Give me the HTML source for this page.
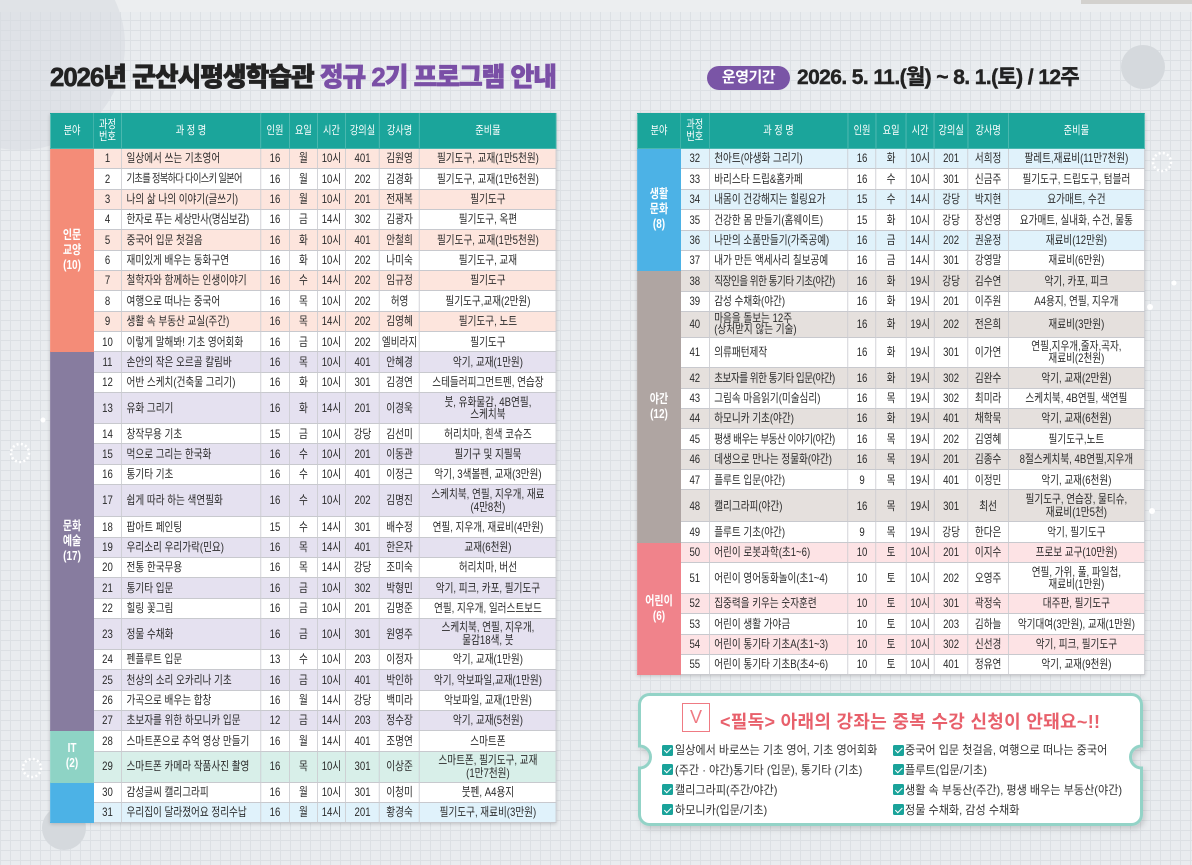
<!DOCTYPE html>
<html lang="ko">
<head>
<meta charset="utf-8">
<style>
html,body{margin:0;padding:0;overflow:hidden;}
body{width:1192px;height:865px;}
#pg{position:relative;width:1192px;height:865px;overflow:hidden;
 background-color:#e9ecef;
 background-image:linear-gradient(#dce0e4 1px,transparent 1px),linear-gradient(90deg,#dce0e4 1px,transparent 1px);
 background-size:10px 10px;
 font-family:"Liberation Sans","Noto Sans CJK KR",sans-serif;}
.topband{position:absolute;left:0;top:0;width:1192px;height:12px;background:#eceef0;}
.topdark{position:absolute;left:1081px;top:0;width:111px;height:4px;background:#d3d1ce;}
.title{position:absolute;left:50px;top:61px;font-size:26px;font-weight:900;letter-spacing:-1px;transform:scaleX(.99);transform-origin:0 0;white-space:nowrap;color:#222;line-height:32px;-webkit-text-stroke:0.7px currentColor;}
.title span{color:#7a4fa6;}
.pill{position:absolute;left:707px;top:66px;width:83px;height:24px;border-radius:12px;background:#7a55a6;color:#fff;font-weight:bold;font-size:15px;line-height:24px;text-align:center;letter-spacing:-0.5px;}
.period{position:absolute;left:797px;top:65px;font-size:21px;font-weight:bold;letter-spacing:-0.6px;line-height:26px;color:#222;white-space:nowrap;-webkit-text-stroke:0.4px currentColor;}
.t{position:absolute;top:113px;border-collapse:collapse;table-layout:fixed;transform:scaleX(.8);transform-origin:0 0;font-size:12px;color:#2a2a2a;background:#fff;box-shadow:0 1px 4px rgba(0,0,0,.18);}
.t td{border:1px solid #c8c9ce;padding:0;text-align:center;line-height:12.5px;white-space:nowrap;}
.t td.n{text-align:left;padding-left:6px;}
.t th{background:#1ba59b;color:#fff;font-weight:normal;border:1px solid #4ab7af;border-top-color:#1ba59b;height:34px;padding:0;line-height:12.5px;font-size:11.5px;}
.t td.c{color:#fff;font-weight:bold;font-size:12.5px;line-height:15px;}
.L{left:50px;width:632.5px;}
.R{left:637px;width:633.9px;}
.L tr{height:20.35px;}
.R tr{height:20.4px;}
.t tr.hd{height:34px;}
.c1{background:#f48c78;border-color:#f48c78 !important;}
.c2{background:#877c9f;border-color:#877c9f !important;}
.c3{background:#8ed3c5;border-color:#8ed3c5 !important;}
.c4{background:#4cb2e6;border-color:#4cb2e6 !important;}
.c5{background:#afa5a2;border-color:#afa5a2 !important;}
.c6{background:#f0838b;border-color:#f0838b !important;}
tr.p1{background:#fde5dd;}
tr.p2{background:#e5e1f0;}
tr.p3{background:#d8efe9;}
tr.p4{background:#e0f2fb;}
tr.p5{background:#e5e0dd;}
tr.p6{background:#fde3e5;}
tr.w{background:#fff;}
.vbox{position:absolute;left:682px;top:703px;width:26px;height:27px;border:1.5px solid #ef7a83;background:#fff;color:#ef7a83;font-size:18px;line-height:27px;text-align:center;font-family:"Liberation Sans",sans-serif;}
.ntitle{position:absolute;left:720px;top:709px;font-size:18px;font-weight:bold;color:#e8606b;line-height:26px;white-space:nowrap;letter-spacing:0.3px;}
.ck{position:absolute;width:11px;height:11px;background:#1aa39a;border-radius:1.5px;}
.ck:after{content:"";position:absolute;left:3.5px;top:1.5px;width:3px;height:5.5px;border:solid #fff;border-width:0 1.5px 1.5px 0;transform:rotate(45deg);}
.ci{position:absolute;font-size:12px;color:#333;line-height:16px;white-space:nowrap;transform:scaleX(.925);transform-origin:0 0;}
</style>
</head>
<body>
<div id="pg">
<div class="topband"></div>
<div class="topdark"></div>
<svg width="1192" height="865" style="position:absolute;left:0;top:0">
<defs><filter id="sh" x="-5%" y="-10%" width="110%" height="125%"><feDropShadow dx="2" dy="3" stdDeviation="3" flood-color="#000" flood-opacity=".15"/></filter></defs>
<circle cx="20" cy="45" r="105" fill="#d7dbe0" opacity=".55"/>
<circle cx="1143" cy="67" r="22" fill="#d5d9dd"/>
<circle cx="1162" cy="162" r="9" fill="none" stroke="#fff" stroke-width="2.5" stroke-dasharray="2 2.3"/>
<circle cx="20" cy="453" r="9" fill="none" stroke="#fff" stroke-width="2.5" stroke-dasharray="2 2.3"/>
<circle cx="32" cy="768" r="9" fill="none" stroke="#fff" stroke-width="2.5" stroke-dasharray="2 2.3"/>
<circle cx="43" cy="420" r="2.5" fill="#fff"/>
<circle cx="1174" cy="283" r="2.5" fill="#fff"/>
<circle cx="1150" cy="307" r="3" fill="#fff"/>
<circle cx="1152" cy="511" r="3" fill="#fff"/>
<circle cx="64" cy="828" r="22" fill="#d5d9dd"/>
<path filter="url(#sh)" d="M 649.5 694.5 H 1131.5 A 10 10 0 0 1 1141.5 704.5 V 746 A 11 11 0 0 0 1141.5 768 V 814.5 A 10 10 0 0 1 1131.5 824.5 H 649.5 A 10 10 0 0 1 639.5 814.5 V 768 A 11 11 0 0 0 639.5 746 V 704.5 A 10 10 0 0 1 649.5 694.5 Z" fill="#fff" stroke="#93d3c7" stroke-width="3"/>
</svg>

<div class="title">2026년 군산시평생학습관 <span>정규 2기 프로그램 안내</span></div>
<div class="pill">운영기간</div>
<div class="period">2026. 5. 11.(월) ~ 8. 1.(토) / 12주</div>

<table class="t L">
<colgroup><col style="width:54.1px"><col style="width:34.6px"><col style="width:174.1px"><col style="width:36px"><col style="width:35px"><col style="width:35.1px"><col style="width:42.6px"><col style="width:49.9px"><col style="width:171.1px"></colgroup>
<tr class="hd"><th>분야</th><th>과정<br>번호</th><th>과 정 명</th><th>인원</th><th>요일</th><th>시간</th><th>강의실</th><th>강사명</th><th>준비물</th></tr>
<tr class="p1"><td rowspan="10" class="c c1">인문<br>교양<br>(10)</td><td>1</td><td class="n">일상에서 쓰는 기초영어</td><td>16</td><td>월</td><td>10시</td><td>401</td><td>김원영</td><td>필기도구, 교재(1만5천원)</td></tr>
<tr class="w"><td>2</td><td class="n" style="font-size:11.5px;letter-spacing:-0.8px">기초를 정복하다 다이스키 일본어</td><td>16</td><td>월</td><td>10시</td><td>202</td><td>김경화</td><td>필기도구, 교재(1만6천원)</td></tr>
<tr class="p1"><td>3</td><td class="n">나의 삶 나의 이야기(글쓰기)</td><td>16</td><td>월</td><td>10시</td><td>201</td><td>전재복</td><td>필기도구</td></tr>
<tr class="w"><td>4</td><td class="n" style="letter-spacing:-0.3px">한자로 푸는 세상만사(명심보감)</td><td>16</td><td>금</td><td>14시</td><td>302</td><td>김광자</td><td>필기도구, 옥편</td></tr>
<tr class="p1"><td>5</td><td class="n">중국어 입문 첫걸음</td><td>16</td><td>화</td><td>10시</td><td>401</td><td>안철희</td><td>필기도구, 교재(1만5천원)</td></tr>
<tr class="w"><td>6</td><td class="n">재미있게 배우는 동화구연</td><td>16</td><td>화</td><td>10시</td><td>202</td><td>나미숙</td><td>필기도구, 교재</td></tr>
<tr class="p1"><td>7</td><td class="n">철학자와 함께하는 인생이야기</td><td>16</td><td>수</td><td>14시</td><td>202</td><td>임규정</td><td>필기도구</td></tr>
<tr class="w"><td>8</td><td class="n">여행으로 떠나는 중국어</td><td>16</td><td>목</td><td>10시</td><td>202</td><td>허영</td><td>필기도구,교재(2만원)</td></tr>
<tr class="p1"><td>9</td><td class="n">생활 속 부동산 교실(주간)</td><td>16</td><td>목</td><td>14시</td><td>202</td><td>김영혜</td><td>필기도구, 노트</td></tr>
<tr class="w"><td>10</td><td class="n">이렇게 말해봐! 기초 영어회화</td><td>16</td><td>금</td><td>10시</td><td>202</td><td>엘비라지</td><td>필기도구</td></tr>
<tr class="p2"><td rowspan="17" class="c c2">문화<br>예술<br>(17)</td><td>11</td><td class="n">손안의 작은 오르골 칼림바</td><td>16</td><td>목</td><td>10시</td><td>401</td><td>안혜경</td><td>악기, 교재(1만원)</td></tr>
<tr class="w"><td>12</td><td class="n">어반 스케치(건축물 그리기)</td><td>16</td><td>화</td><td>10시</td><td>301</td><td>김경연</td><td>스테들러피그먼트펜, 연습장</td></tr>
<tr class="p2" style="height:31px"><td>13</td><td class="n">유화 그리기</td><td>16</td><td>화</td><td>14시</td><td>201</td><td>이경욱</td><td>붓, 유화물감, 4B연필,<br>스케치북</td></tr>
<tr class="w"><td>14</td><td class="n">창작무용 기초</td><td>15</td><td>금</td><td>10시</td><td>강당</td><td>김선미</td><td>허리치마, 흰색 코슈즈</td></tr>
<tr class="p2"><td>15</td><td class="n">먹으로 그리는 한국화</td><td>16</td><td>수</td><td>10시</td><td>201</td><td>이동관</td><td>필기구 및 지필묵</td></tr>
<tr class="w"><td>16</td><td class="n">통기타 기초</td><td>16</td><td>수</td><td>10시</td><td>401</td><td>이정근</td><td>악기, 3색볼펜, 교재(3만원)</td></tr>
<tr class="p2" style="height:32px"><td>17</td><td class="n">쉽게 따라 하는 색연필화</td><td>16</td><td>수</td><td>10시</td><td>202</td><td>김명진</td><td>스케치북, 연필, 지우개, 재료<br>(4만8천)</td></tr>
<tr class="w"><td>18</td><td class="n">팝아트 페인팅</td><td>15</td><td>수</td><td>14시</td><td>301</td><td>배수정</td><td>연필, 지우개, 재료비(4만원)</td></tr>
<tr class="p2"><td>19</td><td class="n">우리소리 우리가락(민요)</td><td>16</td><td>목</td><td>14시</td><td>401</td><td>한은자</td><td>교재(6천원)</td></tr>
<tr class="w"><td>20</td><td class="n">전통 한국무용</td><td>16</td><td>목</td><td>14시</td><td>강당</td><td>조미숙</td><td>허리치마, 버선</td></tr>
<tr class="p2"><td>21</td><td class="n">통기타 입문</td><td>16</td><td>금</td><td>10시</td><td>302</td><td>박형민</td><td>악기, 피크, 카포, 필기도구</td></tr>
<tr class="w"><td>22</td><td class="n">힐링 꽃그림</td><td>16</td><td>금</td><td>10시</td><td>201</td><td>김명준</td><td>연필, 지우개, 일러스트보드</td></tr>
<tr class="p2" style="height:31px"><td>23</td><td class="n">정물 수채화</td><td>16</td><td>금</td><td>10시</td><td>301</td><td>원영주</td><td>스케치북, 연필, 지우개,<br>물감18색, 붓</td></tr>
<tr class="w"><td>24</td><td class="n">펜플루트 입문</td><td>13</td><td>수</td><td>10시</td><td>203</td><td>이정자</td><td>악기, 교재(1만원)</td></tr>
<tr class="p2"><td>25</td><td class="n">천상의 소리 오카리나 기초</td><td>16</td><td>금</td><td>10시</td><td>401</td><td>박인하</td><td>악기, 악보파일,교재(1만원)</td></tr>
<tr class="w"><td>26</td><td class="n">가곡으로 배우는 합창</td><td>16</td><td>월</td><td>14시</td><td>강당</td><td>백미라</td><td>악보파일, 교재(1만원)</td></tr>
<tr class="p2"><td>27</td><td class="n">초보자를 위한 하모니카 입문</td><td>12</td><td>금</td><td>14시</td><td>203</td><td>정수장</td><td>악기, 교재(5천원)</td></tr>
<tr class="w"><td rowspan="2" class="c c3">IT<br>(2)</td><td>28</td><td class="n">스마트폰으로 추억 영상 만들기</td><td>16</td><td>월</td><td>14시</td><td>401</td><td>조명연</td><td>스마트폰</td></tr>
<tr class="p3" style="height:31px"><td>29</td><td class="n">스마트폰 카메라 작품사진 촬영</td><td>16</td><td>목</td><td>10시</td><td>301</td><td>이상준</td><td>스마트폰, 필기도구, 교재<br>(1만7천원)</td></tr>
<tr class="w"><td rowspan="2" class="c c4"></td><td>30</td><td class="n">감성글씨 캘리그라피</td><td>16</td><td>월</td><td>10시</td><td>301</td><td>이청미</td><td>붓펜, A4용지</td></tr>
<tr class="p4"><td>31</td><td class="n">우리집이 달라졌어요 정리수납</td><td>16</td><td>월</td><td>14시</td><td>201</td><td>황경숙</td><td>필기도구, 재료비(3만원)</td></tr>
</table>

<table class="t R">
<colgroup><col style="width:54px"><col style="width:35.5px"><col style="width:173.8px"><col style="width:35px"><col style="width:37.6px"><col style="width:35.1px"><col style="width:42.3px"><col style="width:50.3px"><col style="width:170.3px"></colgroup>
<tr class="hd"><th>분야</th><th>과정<br>번호</th><th>과 정 명</th><th>인원</th><th>요일</th><th>시간</th><th>강의실</th><th>강사명</th><th>준비물</th></tr>
<tr class="p4"><td rowspan="6" class="c c4">생활<br>문화<br>(8)</td><td>32</td><td class="n">천아트(야생화 그리기)</td><td>16</td><td>화</td><td>10시</td><td>201</td><td>서희정</td><td>팔레트,재료비(11만7천원)</td></tr>
<tr class="w"><td>33</td><td class="n">바리스타 드립&amp;홈카페</td><td>16</td><td>수</td><td>10시</td><td>301</td><td>신금주</td><td>필기도구, 드립도구, 텀블러</td></tr>
<tr class="p4"><td>34</td><td class="n">내몸이 건강해지는 힐링요가</td><td>15</td><td>수</td><td>14시</td><td>강당</td><td>박지현</td><td>요가매트, 수건</td></tr>
<tr class="w"><td>35</td><td class="n">건강한 몸 만들기(홈웨이트)</td><td>15</td><td>화</td><td>10시</td><td>강당</td><td>장선영</td><td>요가매트, 실내화, 수건, 물통</td></tr>
<tr class="p4"><td>36</td><td class="n">나만의 소품만들기(가죽공예)</td><td>16</td><td>금</td><td>14시</td><td>202</td><td>권윤정</td><td>재료비(12만원)</td></tr>
<tr class="w"><td>37</td><td class="n">내가 만든 액세사리 칠보공예</td><td>16</td><td>금</td><td>14시</td><td>301</td><td>강영말</td><td>재료비(6만원)</td></tr>
<tr class="p5"><td rowspan="12" class="c c5">야간<br>(12)</td><td>38</td><td class="n" style="letter-spacing:-0.6px">직장인을 위한 통기타 기초(야간)</td><td>16</td><td>화</td><td>19시</td><td>강당</td><td>김수연</td><td>악기, 카포, 피크</td></tr>
<tr class="w"><td>39</td><td class="n">감성 수채화(야간)</td><td>16</td><td>화</td><td>19시</td><td>201</td><td>이주원</td><td>A4용지, 연필, 지우개</td></tr>
<tr class="p5" style="height:25.5px"><td>40</td><td class="n" style="line-height:11.5px">마음을 돌보는 12주<br>(상처받지 않는 기술)</td><td>16</td><td>화</td><td>19시</td><td>202</td><td>전은희</td><td>재료비(3만원)</td></tr>
<tr class="w" style="height:30.5px"><td>41</td><td class="n">의류패턴제작</td><td>16</td><td>화</td><td>19시</td><td>301</td><td>이가연</td><td>연필,지우개,줄자,곡자,<br>재료비(2천원)</td></tr>
<tr class="p5"><td>42</td><td class="n" style="letter-spacing:-0.6px">초보자를 위한 통기타 입문(야간)</td><td>16</td><td>화</td><td>19시</td><td>302</td><td>김완수</td><td>악기, 교재(2만원)</td></tr>
<tr class="w"><td>43</td><td class="n">그림속 마음읽기(미술심리)</td><td>16</td><td>목</td><td>19시</td><td>302</td><td>최미라</td><td>스케치북, 4B연필, 색연필</td></tr>
<tr class="p5"><td>44</td><td class="n">하모니카 기초(야간)</td><td>16</td><td>화</td><td>19시</td><td>401</td><td>채학묵</td><td>악기, 교재(6천원)</td></tr>
<tr class="w"><td>45</td><td class="n" style="letter-spacing:-0.6px">평생 배우는 부동산 이야기(야간)</td><td>16</td><td>목</td><td>19시</td><td>202</td><td>김영혜</td><td>필기도구,노트</td></tr>
<tr class="p5"><td>46</td><td class="n">데생으로 만나는 정물화(야간)</td><td>16</td><td>목</td><td>19시</td><td>201</td><td>김종수</td><td>8절스케치북, 4B연필,지우개</td></tr>
<tr class="w"><td>47</td><td class="n">플루트 입문(야간)</td><td>9</td><td>목</td><td>19시</td><td>401</td><td>이정민</td><td>악기, 교재(6천원)</td></tr>
<tr class="p5" style="height:32px"><td>48</td><td class="n">캘리그라피(야간)</td><td>16</td><td>목</td><td>19시</td><td>301</td><td>최선</td><td>필기도구, 연습장, 물티슈,<br>재료비(1만5천)</td></tr>
<tr class="w"><td>49</td><td class="n">플루트 기초(야간)</td><td>9</td><td>목</td><td>19시</td><td>강당</td><td>한다은</td><td>악기, 필기도구</td></tr>
<tr class="p6"><td rowspan="6" class="c c6">어린이<br>(6)</td><td>50</td><td class="n">어린이 로봇과학(초1~6)</td><td>10</td><td>토</td><td>10시</td><td>201</td><td>이지수</td><td>프로보 교구(10만원)</td></tr>
<tr class="w" style="height:30.5px"><td>51</td><td class="n">어린이 영어동화놀이(초1~4)</td><td>10</td><td>토</td><td>10시</td><td>202</td><td>오영주</td><td>연필, 가위, 풀, 파일첩,<br>재료비(1만원)</td></tr>
<tr class="p6"><td>52</td><td class="n">집중력을 키우는 숫자훈련</td><td>10</td><td>토</td><td>10시</td><td>301</td><td>곽정숙</td><td>대주판, 필기도구</td></tr>
<tr class="w"><td>53</td><td class="n">어린이 생활 가야금</td><td>10</td><td>토</td><td>10시</td><td>203</td><td>김하늘</td><td>악기대여(3만원), 교재(1만원)</td></tr>
<tr class="p6"><td>54</td><td class="n">어린이 통기타 기초A(초1~3)</td><td>10</td><td>토</td><td>10시</td><td>302</td><td>신선경</td><td>악기, 피크, 필기도구</td></tr>
<tr class="w"><td>55</td><td class="n">어린이 통기타 기초B(초4~6)</td><td>10</td><td>토</td><td>10시</td><td>401</td><td>정유연</td><td>악기, 교재(9천원)</td></tr>
</table>

<div class="vbox">V</div>
<div class="ntitle">&lt;필독&gt; 아래의 강좌는 중복 수강 신청이 안돼요~!!</div>

<div class="ck" style="left:662px;top:744.5px"></div>
<div class="ci" style="left:675px;top:742px">일상에서 바로쓰는 기초 영어, 기초 영어회화</div>
<div class="ck" style="left:662px;top:764px"></div>
<div class="ci" style="left:675px;top:761.5px">(주간 · 야간)통기타 (입문), 통기타 (기초)</div>
<div class="ck" style="left:662px;top:784px"></div>
<div class="ci" style="left:675px;top:781.5px">캘리그라피(주간/야간)</div>
<div class="ck" style="left:662px;top:804px"></div>
<div class="ci" style="left:675px;top:801.5px">하모니카(입문/기초)</div>

<div class="ck" style="left:893px;top:744.5px"></div>
<div class="ci" style="left:905px;top:742px">중국어 입문 첫걸음, 여행으로 떠나는 중국어</div>
<div class="ck" style="left:893px;top:764px"></div>
<div class="ci" style="left:905px;top:761.5px">플루트(입문/기초)</div>
<div class="ck" style="left:893px;top:784px"></div>
<div class="ci" style="left:905px;top:781.5px">생활 속 부동산(주간), 평생 배우는 부동산(야간)</div>
<div class="ck" style="left:893px;top:804px"></div>
<div class="ci" style="left:905px;top:801.5px">정물 수채화, 감성 수채화</div>
</div>
</body>
</html>
